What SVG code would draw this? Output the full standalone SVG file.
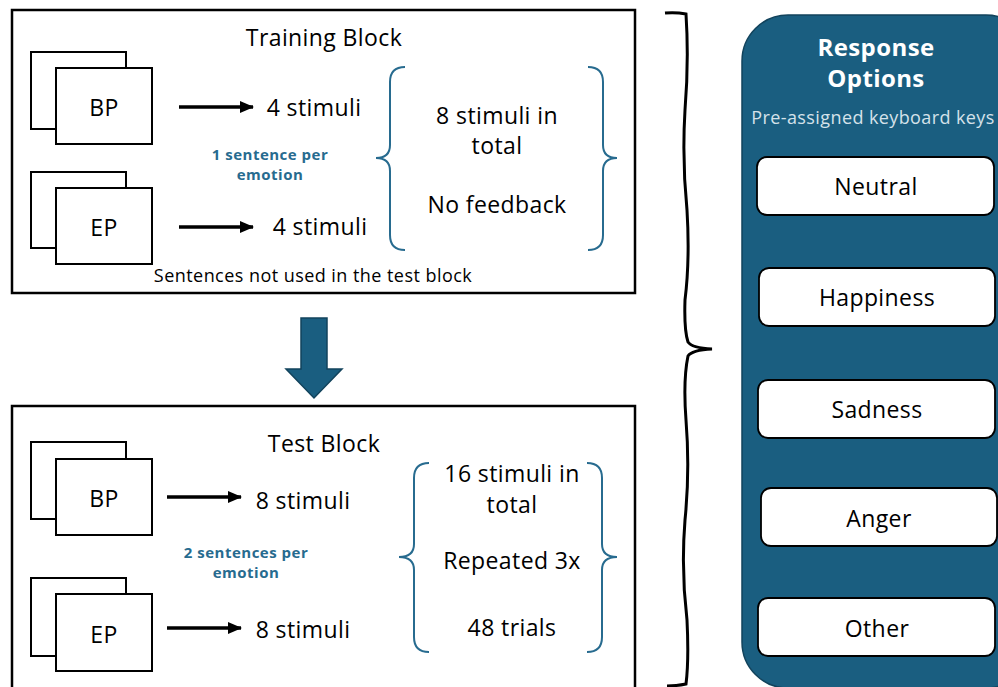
<svg xmlns="http://www.w3.org/2000/svg" width="998" height="687" viewBox="0 0 998 687">
<defs>
<marker id="ah" markerWidth="14" markerHeight="12" refX="13" refY="6" orient="auto" markerUnits="userSpaceOnUse">
<path d="M0,0 L14,6 L0,12 Z" fill="#000"/>
</marker>
<style>
.blk{fill:#fff;stroke:#000;stroke-width:2.5}
.pg{fill:#fff;stroke:#000;stroke-width:2}
.t{font-family:"Open Sans","Liberation Sans",Arial,sans-serif;fill:#000;text-anchor:middle}
.big{font-size:23px;letter-spacing:0.4px}
.note{font-size:15px;font-weight:bold;fill:#276b8f;letter-spacing:0.5px}
.brace{fill:none;stroke:#276b8f;stroke-width:2}
.arr{stroke:#000;stroke-width:3.5;fill:none}
.opt{fill:#fff;stroke:#000;stroke-width:1.8}
</style>
</defs>
<rect width="998" height="687" fill="#fff"/>

<g id="training-block">
<rect class="blk" x="12" y="10" width="623" height="283"/>
<text class="t big" x="324" y="46">Training Block</text>
<text class="t" x="313" y="282" font-size="18" letter-spacing="0.45">Sentences not used in the test block</text>
<text class="t note" x="270" y="160">1 sentence per</text>
<text class="t note" x="270" y="180">emotion</text>
</g>
<g id="train-bp">
<rect class="pg" x="31" y="52" width="95" height="77"/>
<rect class="pg" x="56" y="68" width="96" height="76"/>
<text class="t big" x="104" y="116">BP</text>
</g>
<g id="train-ep">
<rect class="pg" x="31" y="172" width="95" height="76"/>
<rect class="pg" x="56" y="188" width="96" height="76"/>
<text class="t big" x="104" y="236">EP</text>
</g>
<g id="train-bp-stimuli"><text class="t big" x="314" y="116">4 stimuli</text></g>
<g id="train-ep-stimuli"><text class="t big" x="320" y="235">4 stimuli</text></g>
<g id="train-summary">
<path class="brace" d="M405,67 Q390,67 390,82 L390,145 Q390,158 376,158 Q390,158 390,171 L390,235 Q390,250 405,250"/>
<path class="brace" d="M588,67 Q603,67 603,82 L603,145 Q603,158 617,158 Q603,158 603,171 L603,235 Q603,250 588,250"/>
<text class="t big" x="497" y="124">8 stimuli in</text>
<text class="t big" x="497" y="154">total</text>
<text class="t big" x="497" y="213">No feedback</text>
</g>

<g id="test-block">
<rect class="blk" x="12" y="406" width="623" height="290"/>
<text class="t big" x="324" y="452">Test Block</text>
<text class="t note" x="246" y="558">2 sentences per</text>
<text class="t note" x="246" y="578">emotion</text>
</g>
<g id="test-bp">
<rect class="pg" x="31" y="442" width="95" height="77"/>
<rect class="pg" x="56" y="459" width="96" height="76"/>
<text class="t big" x="104" y="507">BP</text>
</g>
<g id="test-ep">
<rect class="pg" x="31" y="578" width="95" height="78"/>
<rect class="pg" x="56" y="594" width="96" height="77"/>
<text class="t big" x="104" y="643">EP</text>
</g>
<g id="test-bp-stimuli"><text class="t big" x="303" y="509">8 stimuli</text></g>
<g id="test-ep-stimuli"><text class="t big" x="303" y="638">8 stimuli</text></g>
<g id="test-summary">
<path class="brace" d="M429,463 Q414,463 414,478 L414,544 Q414,557 399,557 Q414,557 414,570 L414,637 Q414,652 429,652"/>
<path class="brace" d="M587,463 Q602,463 602,478 L602,544 Q602,557 617,557 Q602,557 602,570 L602,637 Q602,652 587,652"/>
<text class="t big" x="512" y="482">16 stimuli in</text>
<text class="t big" x="512" y="513">total</text>
<text class="t big" x="512" y="569">Repeated 3x</text>
<text class="t big" x="512" y="636">48 trials</text>
</g>

<g id="response-options">
<rect x="742" y="15" width="290" height="673" rx="46" fill="#1a5e80" stroke="#12435c" stroke-width="1.5"/>
<text class="t" x="876" y="56" font-size="24" font-weight="bold" letter-spacing="0.4" style="fill:#fff">Response</text>
<text class="t" x="876" y="87" font-size="24" font-weight="bold" letter-spacing="0.4" style="fill:#fff">Options</text>
<text class="t" x="873" y="124" font-size="18" letter-spacing="0.4" style="fill:#d5e2ea">Pre-assigned keyboard keys</text>
</g>
<g id="opt-neutral"><rect class="opt" x="757" y="157" width="237" height="58" rx="10"/><text class="t big" x="876" y="195">Neutral</text></g>
<g id="opt-happiness"><rect class="opt" x="759" y="268" width="236" height="58" rx="10"/><text class="t big" x="877" y="306">Happiness</text></g>
<g id="opt-sadness"><rect class="opt" x="758" y="380" width="237" height="58" rx="10"/><text class="t big" x="877" y="418">Sadness</text></g>
<g id="opt-anger"><rect class="opt" x="761" y="488" width="236" height="58" rx="10"/><text class="t big" x="879" y="527">Anger</text></g>
<g id="opt-other"><rect class="opt" x="758" y="598" width="237" height="58" rx="10"/><text class="t big" x="877" y="637">Other</text></g>

<g id="connectors">
<line class="arr" x1="179" y1="107" x2="253" y2="107" marker-end="url(#ah)"/>
<line class="arr" x1="179" y1="227" x2="253" y2="227" marker-end="url(#ah)"/>
<line class="arr" x1="167" y1="497" x2="241" y2="497" marker-end="url(#ah)"/>
<line class="arr" x1="167" y1="628" x2="241" y2="628" marker-end="url(#ah)"/>
<path d="M301,318 L327,318 L327,369 L342,369 L314,398 L286,369 L301,369 Z" fill="#1a5e80" stroke="#12435c" stroke-width="1.5"/>
<path d="M665,13 Q676,12 686,14 Q689,60 685,110 Q682,160 687,210 Q690,260 685,300 Q684,330 688,342 Q692,348 712,349 Q692,350 688,356 Q683,380 686,420 Q690,470 685,520 Q681,570 687,620 Q689,660 686,684 Q676,686 667,686" fill="none" stroke="#000" stroke-width="3"/>
</g>
</svg>
